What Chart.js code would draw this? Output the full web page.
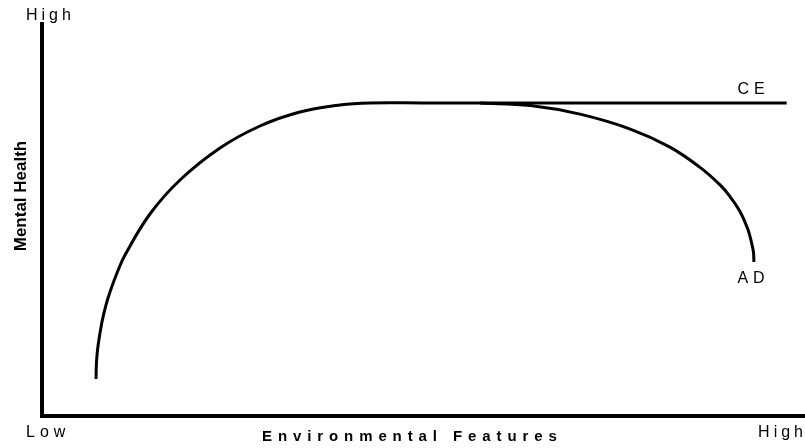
<!DOCTYPE html>
<html>
<head>
<meta charset="utf-8">
<script src="https://cdn.jsdelivr.net/npm/chart.js@4.4.0/dist/chart.umd.min.js"></script>
<style>
  html, body { margin: 0; padding: 0; background: #fff; }
  #wrap { width: 805px; height: 448px; }
</style>
</head>
<body>
<div id="wrap"><canvas id="chart" width="805" height="448"></canvas></div>
<script>
// Environmental features (0-100) vs mental health (0-100)
const ceX = [7.08, 7.14, 7.34, 7.86, 8.39, 8.91, 9.83, 10.88, 14.15, 18.09, 23.33, 28.57, 33.81, 39.06, 42.99, 50.0, 57.4, 97.6];
const ceY = [9.44, 13.70, 17.86, 23.98, 28.32, 31.63, 36.48, 41.07, 51.53, 60.20, 68.37, 73.98, 77.55, 79.34, 79.85, 79.85, 79.85, 79.85];

const adX = [57.4, 64.0, 70.5, 77.1, 82.3, 86.2, 88.9, 90.2, 91.5, 92.5, 93.0, 93.25, 93.3];
const adY = [79.85, 79.2, 77.0, 73.2, 68.6, 63.5, 58.9, 55.9, 52.1, 47.7, 44.2, 41.7, 39.3];

const axisLow = 'Low';
const axisHigh = 'High';
const xTitle = 'Environmental Features';
const yTitle = 'Mental Health';
const ceLabel = 'CE';
const adLabel = 'AD';

function toPoints(xs, ys) {
    return xs.map((x, i) => ({ x: x, y: ys[i] }));
}

// Draw the text labels around the axes
const labelsPlugin = {
    id: 'labels',
    afterDraw(chart) {
        const ctx = chart.ctx;
        const xs = chart.scales.x;
        const ys = chart.scales.y;
        ctx.save();
        ctx.fillStyle = '#000';
        ctx.textBaseline = 'middle';

        ctx.font = '16px "Liberation Sans", Arial, sans-serif';
        ctx.letterSpacing = '4px';
        ctx.textAlign = 'left';
        ctx.fillText(axisHigh, 26, 16);
        ctx.letterSpacing = '5px';
        ctx.fillText(axisLow, 26, 433);
        ctx.letterSpacing = '4px';
        ctx.textAlign = 'right';
        ctx.fillText(axisHigh, 807, 433);

        // series labels next to the line ends
        ctx.letterSpacing = '5px';
        ctx.textAlign = 'left';
        ctx.fillText(ceLabel, xs.getPixelForValue(91.4) - 2, ys.getPixelForValue(79.85) - 13);
        ctx.fillText(adLabel, xs.getPixelForValue(91.4) - 2, ys.getPixelForValue(39.3) + 17);

        // axis titles
        ctx.font = 'bold 15px "Liberation Sans", Arial, sans-serif';
        ctx.letterSpacing = '5.9px';
        ctx.fillText(xTitle, 262, 437);

        ctx.font = 'bold 17px "Liberation Sans", Arial, sans-serif';
        ctx.letterSpacing = '0px';
        ctx.textAlign = 'center';
        ctx.translate(21, 196);
        ctx.rotate(-Math.PI / 2);
        ctx.fillText(yTitle, 0, 0);
        ctx.restore();
    }
};

const chartEl = document.getElementById('chart');
new Chart(chartEl, {
    type: 'scatter',
    data: {
        datasets: [{
            label: ceLabel,
            data: toPoints(ceX, ceY),
            showLine: true,
            borderColor: '#000',
            borderWidth: 3,
            pointRadius: 0,
            tension: 0.4
        }, {
            label: adLabel,
            data: toPoints(adX, adY),
            showLine: true,
            borderColor: '#000',
            borderWidth: 3,
            pointRadius: 0,
            tension: 0.4
        }]
    },
    options: {
        responsive: false,
        animation: false,
        layout: {
            padding: { left: 42, right: 0, top: 24, bottom: 32 }
        },
        plugins: {
            legend: { display: false },
            tooltip: { enabled: false }
        },
        scales: {
            x: {
                type: 'linear',
                min: 0,
                max: 100,
                ticks: { display: false },
                grid: { display: false, drawTicks: false },
                border: { display: true, color: '#000', width: 4 },
                afterFit(scale) { scale.height = 0; }
            },
            y: {
                type: 'linear',
                min: 0,
                max: 100,
                ticks: { display: false },
                grid: { display: false, drawTicks: false },
                border: { display: true, color: '#000', width: 4 },
                afterFit(scale) { scale.width = 0; }
            }
        }
    },
    plugins: [labelsPlugin]
});
</script>
</body>
</html>
